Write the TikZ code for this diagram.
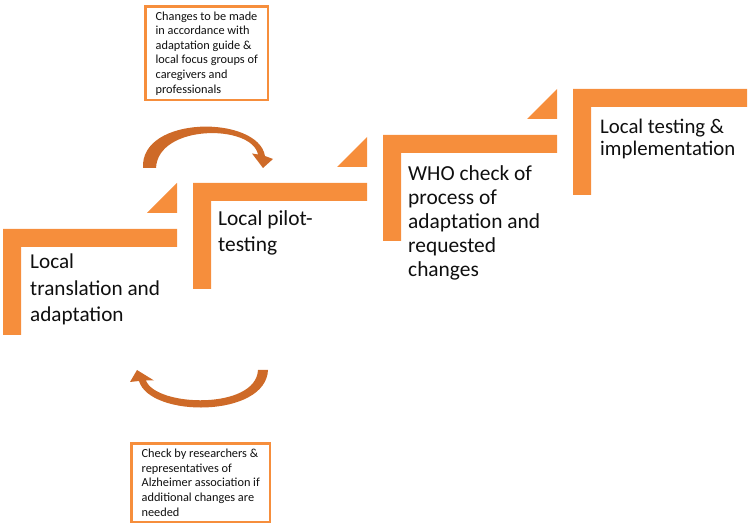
\documentclass[tikz,border=0pt]{standalone}
\usepackage{fontspec}
\setmainfont{Carlito}
\usepackage{tikz}
\definecolor{steporange}{RGB}{246,142,60}
\definecolor{arcorange}{RGB}{206,106,40}
\definecolor{txtdark}{RGB}{15,15,15}

\begin{document}
\begin{tikzpicture}[x=1pt, y=-1pt,
	every node/.style={inner sep=0pt, text=txtdark, align=left},
	steplabel/.style={anchor=north west},
	notebox/.style={draw=steporange, line width=2.5pt, anchor=north west, font=\fontsize{12.3}{14.6}\selectfont}]
	\useasboundingbox (0,0) rectangle (750,526);
	% stair steps
	\foreach \sx/\sy in {3/229, 193/183, 383/135, 573/89}
		\fill[steporange] (\sx,\sy) -- ++(174,0) -- ++(0,18) -- ++(-156,0) -- ++(0,88) -- ++(-18,0) -- cycle;
	\foreach \sx/\sy in {3/229, 193/183, 383/135}
		\fill[steporange] (\sx+144,\sy-16) -- ++(30,0) -- ++(0,-30) -- cycle;
	\node[steplabel, font=\fontsize{21.2}{26.5}\selectfont] (translation) at (30,254) {Local\\translation and\\adaptation};
	\node[steplabel, font=\fontsize{21.4}{26}\selectfont] (pilot) at (218,210) {Local pilot-\\testing};
	\node[steplabel, font=\fontsize{21.4}{24}\selectfont] (whocheck) at (408,165) {WHO check of\\process of\\adaptation and\\requested\\changes};
	\node[steplabel, font=\fontsize{20.8}{22}\selectfont] (implement) at (600,119) {Local testing \&\\implementation};
	% feedback notes
	\node[notebox, minimum width=122.5pt, minimum height=93.5pt] (guidenote) at (144.25,5.25) {Changes to be made\\in accordance with\\adaptation guide \&\\local focus groups of\\caregivers and\\professionals};
	\node[notebox, minimum width=138.5pt, minimum height=78.5pt] (checknote) at (130.25,442.25) {Check by researchers \&\\representatives of\\Alzheimer association if\\additional changes are\\needed};
	% curved arrows
	\fill[arcorange] (143,168) .. controls (140,115) and (258,115) .. (265,156) -- (273,159) -- (263,168) -- (252,153.5) -- (258,154.5) .. controls (252,124) and (158,124) .. (156,168) -- cycle;
	\fill[arcorange] (268,370) .. controls (266,418) and (150,418) .. (139,381) -- (130,382) -- (137,370) -- (154,380.5) -- (146,380.5) .. controls (156,407) and (256,410) .. (258,370) -- cycle;
\end{tikzpicture}
\end{document}
